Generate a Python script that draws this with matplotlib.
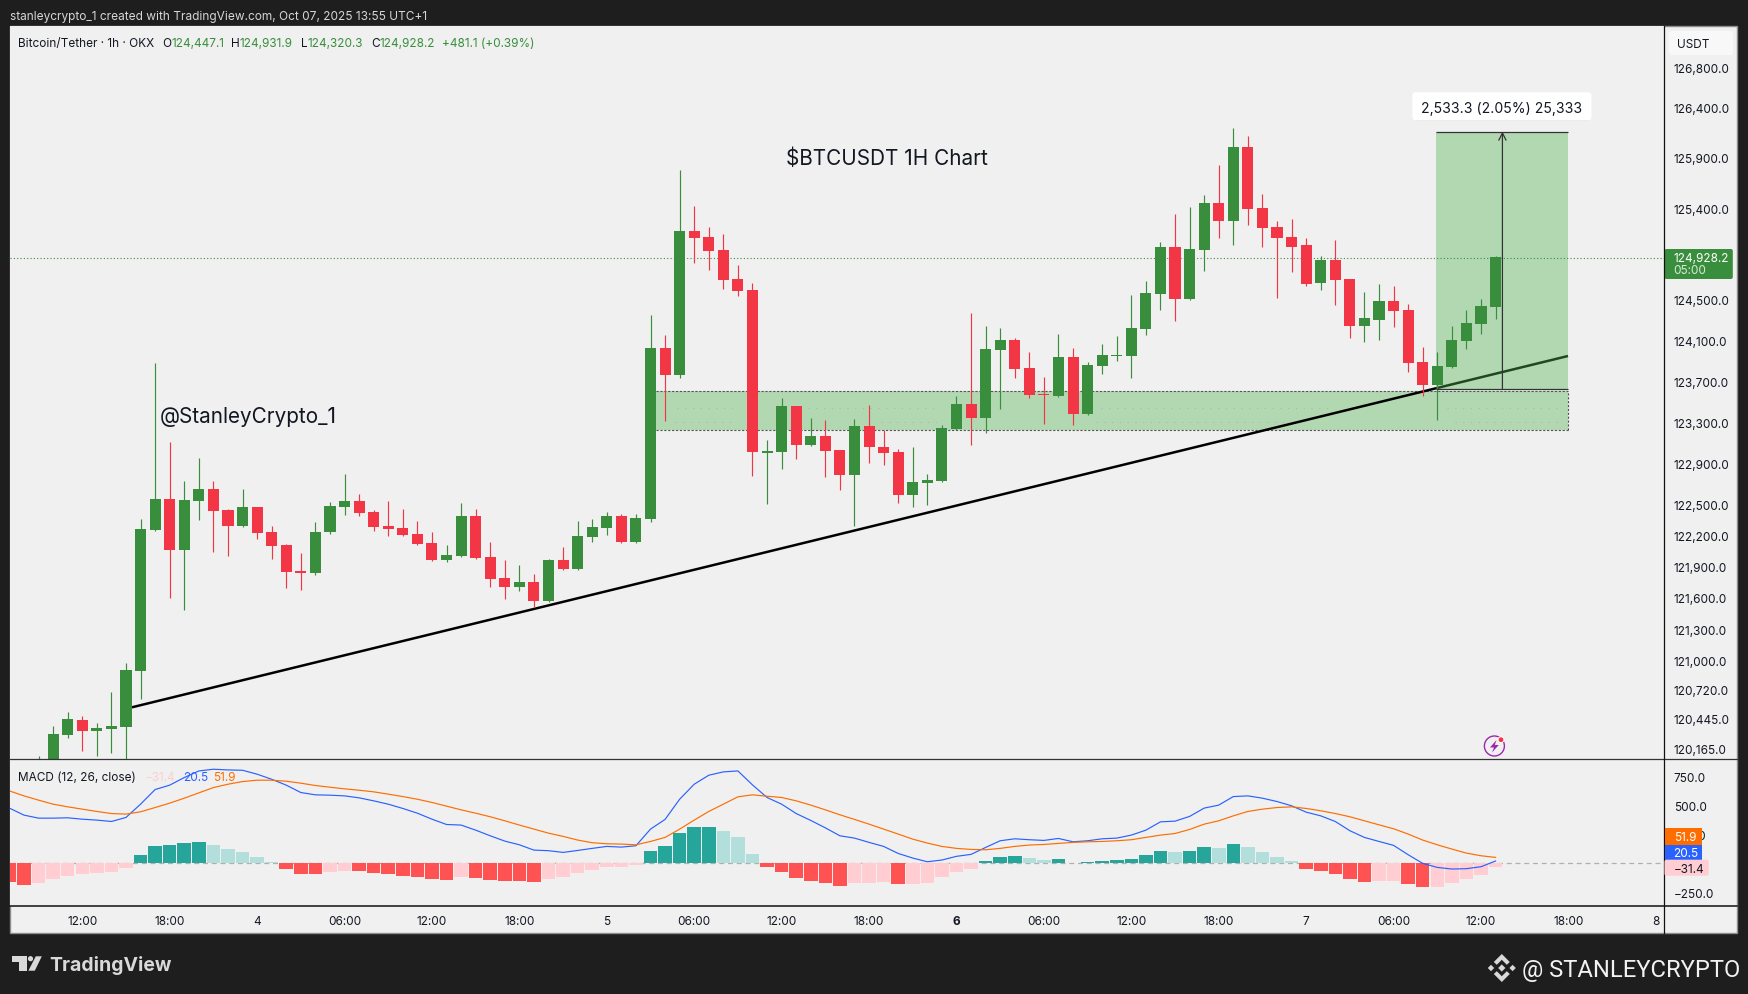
import numpy as np
import matplotlib
matplotlib.use("Agg")
import matplotlib.pyplot as plt
from matplotlib.patches import Rectangle, FancyBboxPatch, Polygon, Circle
from matplotlib.ticker import NullLocator, NullFormatter

plt.rcParams["font.family"] = ["Inter", "DejaVu Sans"]

W, H = 1748, 995
BG, PANE, INK = "#1e1e1e", "#f0f0f0", "#131722"
GREEN, RED = "#388e3c", "#f23645"

# hourly candles, first one is Oct 3 09:00 (hour 0 = Oct 3 12:00)
first_hour = -3
opens = [119800, 120000, 120291, 120433, 120329, 120348, 120367, 120900, 122252, 122551,
         122059, 122532, 122653, 122445, 122291, 122474, 122233, 122107, 121857, 121838,
         122233, 122474, 122532, 122426, 122291, 122272, 122214, 122127, 121963, 122002,
         122387, 121992, 121790, 121703, 121752, 121569, 121963, 121877, 122185, 122272,
         122387, 122136, 122358, 124021, 123757, 125172, 125113, 124984, 124698, 124590,
         122997, 123007, 123454, 123075, 123162, 123026, 122784, 123260, 123055, 123007,
         122590, 122706, 122726, 123230, 123473, 123337, 124001, 124099, 123825, 123571,
         123551, 123933, 123376, 123845, 123943, 123943, 124207, 124550, 125018, 124501,
         124984, 125448, 125271, 126005, 125399, 125211, 125113, 125033, 124659, 124885,
         124698, 124236, 124295, 124481, 124393, 123884, 123659, 123835, 124090, 124256,
         124423]
highs = [120095, 120377, 120510, 120471, 120405, 120700, 120976, 122358, 123874, 123104,
         122726, 122949, 122726, 122455, 122653, 122480, 122291, 122117, 122031, 122329,
         122522, 122793, 122600, 122445, 122532, 122455, 122339, 122233, 122107, 122512,
         122455, 122136, 121963, 121915, 121829, 121970, 122088, 122339, 122358, 122426,
         122406, 122406, 124344, 124148, 125776, 125419, 125211, 125142, 124836, 124659,
         123123, 123532, 123460, 123337, 123318, 123030, 123328, 123464, 123221, 123036,
         123055, 122793, 123269, 123551, 124364, 124236, 124217, 124119, 123982, 123737,
         124158, 124021, 123884, 124060, 124138, 124541, 124679, 125067, 125340, 125409,
         125528, 125826, 126194, 126115, 125538, 125271, 125290, 125103, 124925, 125083,
         124700, 124570, 124649, 124629, 124452, 124031, 123982, 124236, 124393, 124501,
         124925]
lows = [119700, 119900, 120263, 120139, 120092, 120120, 120000, 120633, 122240, 121598,
        121483, 122349, 122040, 122002, 122285, 122165, 121973, 121694, 121675, 121819,
        122214, 122397, 122387, 122243, 122194, 122194, 122107, 121955, 121944, 121995,
        121975, 121703, 121588, 121665, 121511, 121560, 121870, 121867, 122136, 122204,
        122130, 122127, 122329, 123308, 123727, 124856, 124787, 124600, 124531, 122775,
        122503, 122842, 122939, 123070, 122764, 122643, 122291, 122900, 122881, 122512,
        122474, 122493, 122720, 123221, 123075, 123191, 123425, 123727, 123532, 123279,
        123545, 123269, 123370, 123767, 123894, 123727, 124148, 124393, 124285, 124495,
        124777, 125103, 125033, 125231, 125014, 124511, 124767, 124629, 124590, 124442,
        124119, 124080, 124099, 124226, 123786, 123551, 123318, 123830, 124011, 124158,
        124305]
closes = [120000, 120300, 120443, 120329, 120358, 120377, 120910, 122262, 122551, 122059,
          122541, 122653, 122435, 122291, 122474, 122223, 122098, 121848, 121838, 122233,
          122484, 122532, 122416, 122281, 122262, 122204, 122117, 121963, 122011, 122387,
          121982, 121781, 121703, 121752, 121569, 121963, 121877, 122194, 122281, 122387,
          122136, 122368, 124021, 123757, 125172, 125103, 124974, 124688, 124580, 123007,
          123017, 123454, 123075, 123162, 123017, 122784, 123260, 123055, 122997, 122590,
          122716, 122735, 123240, 123473, 123337, 124011, 124099, 123815, 123561, 123561,
          123933, 123376, 123855, 123952, 123952, 124217, 124560, 125018, 124501, 124994,
          125448, 125271, 126005, 125389, 125201, 125103, 125014, 124649, 124885, 124688,
          124236, 124315, 124481, 124383, 123874, 123659, 123845, 124099, 124266, 124432,
          124915]

# MACD pane, first value is hour -5
macd_first_hour = -5
hist = [-161, -187, -170, -136, -110, -92, -84, -75, -40, 72, 150, 159, 176, 185, 159, 124, 98, 55, 12,
        -49, -92, -93, -75, -66, -67, -84, -92, -110, -118, -136, -144, -118, -127, -144, -153, -154,
        -161, -136, -118, -84, -58, -32, -31, -14, 107, 150, 262, 314, 315, 280, 228, 81, -32, -75,
        -127, -153, -170, -196, -170, -169, -161, -179, -178, -170, -118, -75, -49, 20, 55, 63, 46,
        29, 37, 3, 12, 20, 29, 37, 72, 107, 98, 107, 141, 133, 167, 141, 98, 55, 20, -49, -66, -92,
        -136, -161, -153, -152, -179, -205, -204, -170, -136, -101, -31.4]
macd = [479, 418, 392, 392, 395, 383, 375, 363, 398, 513, 640, 678, 744, 801, 816, 810, 807, 773,
        729, 678, 614, 594, 591, 585, 568, 542, 513, 476, 435, 383, 337, 332, 288, 239, 193, 161,
        115, 110, 95, 112, 130, 147, 141, 153, 297, 381, 556, 686, 764, 793, 801, 680, 571, 513,
        432, 372, 308, 239, 219, 182, 147, 86, 46, 14, 29, 61, 78, 138, 196, 213, 205, 199, 216,
        187, 196, 213, 219, 245, 288, 360, 366, 407, 479, 505, 579, 585, 565, 536, 499, 444, 412,
        363, 283, 225, 190, 156, 75, 0, -35, -49, -46, -29, 20.5]
signal = [628, 585, 548, 513, 490, 470, 450, 432, 427, 447, 484, 522, 565, 611, 657, 686, 709, 721,
          721, 712, 695, 675, 660, 646, 634, 620, 600, 579, 556, 528, 496, 464, 435, 404, 369, 332,
          297, 262, 234, 202, 179, 170, 167, 161, 190, 225, 297, 375, 450, 513, 577, 594, 582, 571,
          542, 505, 464, 421, 381, 340, 297, 254, 210, 176, 147, 130, 121, 118, 130, 147, 159, 164,
          173, 182, 187, 190, 196, 205, 225, 245, 259, 294, 340, 369, 412, 450, 470, 484, 490, 476,
          456, 432, 404, 369, 334, 300, 254, 202, 161, 124, 89, 66, 51.9]

# drawings
last_price = 124912
trend_x, trend_y = [3.41, 101.97], [120554, 123945]
zone_x, zone_low, zone_high = [39.37, 101.95], 123227, 123607
measure_x, measure_low, measure_high = [92.9, 101.95], 123627, 126161
arrow_x = 97.47
zone_dots = [(123441, 40.8, 44.7), (123441, 49.8, 58.9), (123441, 69.9, 85.8), (123441, 93.7, 101.3),
             (123305, 40.7, 44.5), (123305, 54.8, 58.9), (123305, 69.6, 82.7), (123305, 94.2, 101.3)]

# axis labels
price_ticks = [126800, 126400, 125900, 125400, 124500, 124100, 123700, 123300, 122900, 122500,
               122200, 121900, 121600, 121300, 121000, 120720, 120445, 120165]
macd_ticks = [750, 500, 250, -250]
time_ticks = [0, 6, 12, 18, 24, 30, 36, 42, 48, 54, 60, 66, 72, 78, 84, 90, 96, 102, 108]
time_labels = ["12:00", "18:00", "4", "06:00", "12:00", "18:00", "5", "06:00", "12:00", "18:00",
               "6", "06:00", "12:00", "18:00", "7", "06:00", "12:00", "18:00", "8"]

fig = plt.figure(figsize=(W / 100, H / 100), dpi=100, facecolor=BG)


def rect_px(x0, y0, x1, y1):
    return [x0 / W, 1 - y1 / H, (x1 - x0) / W, (y1 - y0) / H]


under = fig.add_axes([0, 0, 1, 1], zorder=0)
under.set_xlim(0, W); under.set_ylim(H, 0); under.axis("off")
under.add_patch(Rectangle((10, 27), 1727, 907, fc=PANE, ec="#8c8c8c", lw=1))

# price pane
ax = fig.add_axes(rect_px(10.3, 27.3, 1664, 760.3), zorder=1, facecolor=PANE)
ax.set_yscale("log")
ax.set_xlim(-4.94, 108.56)
ax.set_ylim(120060, 127214)
hours = np.arange(first_hour, first_hour + len(opens))
o, h, l, c = map(np.array, (opens, highs, lows, closes))
cols = [GREEN if b >= a else RED for a, b in zip(o, c)]

ax.fill_between(zone_x, zone_low, zone_high, color="#b2d8b2", lw=0, zorder=1)
ax.hlines([zone_low, zone_high], *zone_x, color="#555555", lw=0.8, ls=(0, (2, 1.5)), zorder=1.5)
ax.vlines(zone_x[1], zone_low, zone_high, color="#555555", lw=0.8, ls=(0, (2, 1.5)), zorder=1.5)
for y, x0, x1 in zone_dots:
    ax.plot([x0, x1], [y, y], color="#c4a8b8", lw=0.8, ls=(0, (1, 6)), zorder=1.6)
ax.plot(trend_x, trend_y, color="black", lw=1.8, zorder=2, solid_capstyle="butt")
ax.fill_between(measure_x, measure_low, measure_high, color="#55b455", alpha=0.4, lw=0, zorder=2.5)
ax.axhline(last_price, color=GREEN, lw=0.8, ls=(0, (1, 2)), zorder=2.6)
ax.vlines(hours, l, h, color=cols, lw=0.85, zorder=4)
ax.bar(hours, np.abs(c - o), bottom=np.minimum(o, c), width=0.76, color=cols, lw=0, zorder=4.5)
ax.hlines([measure_low, measure_high], *measure_x, color="#333333", lw=0.9, zorder=5)
ax.annotate("", xy=(arrow_x, measure_high), xytext=(arrow_x, measure_low),
            arrowprops=dict(arrowstyle="->", color="#333333", lw=0.9, mutation_scale=13,
                            shrinkA=0, shrinkB=0), zorder=5)
ax.set_xticks([])
ax.yaxis.tick_right()
ax.set_yticks(price_ticks, [f"{v:,.1f}" for v in price_ticks])
ax.yaxis.set_minor_locator(NullLocator())
ax.yaxis.set_minor_formatter(NullFormatter())
ax.tick_params(axis="y", length=0, pad=6.9, labelsize=8.5, labelcolor=INK)
for s in ax.spines.values():
    s.set_visible(False)

# MACD pane
ax2 = fig.add_axes(rect_px(10.3, 760.3, 1664, 907.3), zorder=1, facecolor=PANE)
ax2.set_xlim(-4.94, 108.56)
ax2.set_ylim(-372, 902)
mh = np.arange(macd_first_hour, macd_first_hour + len(hist))
hv = np.array(hist)
bar_cols = []
for i, v in enumerate(hv):
    rising = i > 0 and v > hv[i - 1]
    if v >= 0:
        bar_cols.append("#26a69a" if rising else "#b2dfdb")
    else:
        bar_cols.append("#ffcdd2" if rising else "#ff5252")
ax2.axhline(0, color="#b0b0b0", lw=0.9, ls=(0, (4, 3)), zorder=1)
ax2.bar(mh, hv, width=0.93, color=bar_cols, lw=0, zorder=2)
ax2.plot(mh, macd, color="#2962ff", lw=0.85, zorder=3)
ax2.plot(mh, signal, color="#ff6d00", lw=0.85, zorder=3)
ax2.yaxis.tick_right()
ax2.set_yticks(macd_ticks, [f"{v:.1f}".replace("-", "\u2212") for v in macd_ticks])
ax2.tick_params(axis="y", length=0, pad=6.9, labelsize=8.5, labelcolor=INK)
ax2.set_xticks(time_ticks, time_labels)
ax2.tick_params(axis="x", length=0, pad=6.2, labelsize=8.5, labelcolor=INK)
for lab in ax2.get_xticklabels():
    if lab.get_text() == "6":
        lab.set_fontweight("bold")
for s in ax2.spines.values():
    s.set_visible(False)

# overlay in image pixels: frame lines, legends, tags, logos
top = fig.add_axes([0, 0, 1, 1], zorder=3)
top.set_xlim(0, W); top.set_ylim(H, 0); top.axis("off"); top.patch.set_alpha(0)
top.plot([10, 1737], [760.3, 760.3], color="#333333", lw=0.9)
top.plot([10, 1737], [907.3, 907.3], color="#111111", lw=1.1)
top.plot([1664, 1664], [27, 934], color="#111111", lw=0.9)


def label(x, y, s, color=INK, size=8.5, **kw):
    kw.setdefault("va", "center")
    return top.text(x, y, s, color=color, fontsize=size, **kw)


label(10.3, 16.7, "stanleycrypto_1 created with TradingView.com, Oct 07, 2025 13:55 UTC+1", color="#d6d6d6", size=8.55)
label(18.4, 43.7, "Bitcoin/Tether \u00b7 1h \u00b7 OKX")
tv_green = GREEN
for x, s, col in [(162.6, "O", INK), (171.8, "124,447.1", tv_green), (231, "H", INK), (240, "124,931.9", tv_green),
                  (301, "L", INK), (308, "124,320.3", tv_green), (371, "C", INK), (379.6, "124,928.2", tv_green),
                  (441.6, "+481.1 (+0.39%)", tv_green)]:
    label(x, 43.7, s, color=col)
label(18.4, 777.7, "MACD (12, 26, close)")
label(144.3, 777.7, "\u221231.4", color="#ffcdd2")
label(183, 777.7, "20.5", color="#2962ff")
label(213.5, 777.7, "51.9", color="#ff6d00")

label(785.5, 158.7, "\\$BTCUSDT 1H Chart", size=14.9)
label(160, 417, "@StanleyCrypto_1", size=14.9)

top.add_patch(FancyBboxPatch((1414, 95), 176, 26.5, boxstyle="round,pad=0,rounding_size=3", fc="#d8d8d8", ec="none"))
top.add_patch(FancyBboxPatch((1412.4, 93.3), 179, 28, boxstyle="round,pad=0,rounding_size=3", fc="white", ec="none"))
label(1502, 109, "2,533.3 (2.05%) 25,333", ha="center", size=10.1)

top.add_patch(FancyBboxPatch((1669, 31.7), 64, 24.3, boxstyle="round,pad=0,rounding_size=3", fc="#f8f8f8", ec="none"))
label(1677.3, 45, "USDT", size=8.5)

top.add_patch(FancyBboxPatch((1664.5, 250), 68.3, 30, boxstyle="round,pad=0,rounding_size=2", fc=GREEN, ec="none"))
label(1673.6, 258.6, "124,928.2", color="white")
label(1673.6, 271.3, "05:00", color="#d8ead9")

top.add_patch(Rectangle((1664.5, 829), 37.5, 17, fc="#ff6d00", ec="none", zorder=4))
top.add_patch(Rectangle((1664.5, 845.7), 37.5, 15, fc="#2962ff", ec="none", zorder=4))
top.add_patch(FancyBboxPatch((1664.5, 860.7), 44.2, 16, boxstyle="round,pad=0,rounding_size=2", fc="#ffcdd2", ec="none", zorder=4))
label(1673.6, 838.2, "51.9", color="white", zorder=5)
label(1673.6, 853.8, "20.5", color="white", zorder=5)
label(1673.6, 869.6, "\u221231.4", zorder=5)

# lightning badge
top.add_patch(Circle((1494.4, 747), 10, fc="none", ec="#9c27b0", lw=1))
top.add_patch(Polygon([(1496.5, 741), (1490, 748.5), (1494, 748.5), (1492, 753.5), (1498.8, 746), (1494.8, 746)],
                      fc="#9c27b0", ec="none"))
top.add_patch(Circle((1501, 740.7), 3.4, fc="white", ec="none"))
top.add_patch(Circle((1501, 740.7), 2.4, fc="#f23645", ec="none"))

# TradingView mark and name
mark = "#d9d9d9"
top.add_patch(Polygon([(12, 957.3), (26.7, 957.3), (26.7, 971.7), (19.3, 971.7), (19.3, 962.6), (12, 962.6)], fc=mark, ec="none"))
top.add_patch(Circle((30.5, 959.7), 2.6, fc=mark, ec="none"))
top.add_patch(Polygon([(35.8, 957.3), (41.8, 957.3), (34.8, 971.7), (28.4, 971.7)], fc=mark, ec="none"))
label(49, 965.5, "TradingView", color=mark, size=14.0, fontweight="bold")

# exchange mark and handle
cx, cy = 1501.8, 969
top.add_patch(Polygon([(cx, cy - 3.6), (cx + 3.6, cy), (cx, cy + 3.6), (cx - 3.6, cy)], fc=mark, ec="none"))
for sx in (-1, 1):
    top.add_patch(Polygon([(cx + sx * 14, cy), (cx + sx * 10.8, cy - 3.2), (cx + sx * 7.6, cy), (cx + sx * 10.8, cy + 3.2)], fc=mark, ec="none"))
    pts = [(cx, cy - sx * 14), (cx + 8, cy - sx * 6), (cx + 5, cy - sx * 3.2), (cx, cy - sx * 8.2),
           (cx - 5, cy - sx * 3.2), (cx - 8, cy - sx * 6)]
    top.add_patch(Polygon(pts, fc=mark, ec="none"))
label(1522, 970, "@ STANLEYCRYPTO", color="#f2f2f2", size=17.1, family=["Roboto", "DejaVu Sans"])

fig.savefig("out.png", dpi=100, facecolor=BG)
